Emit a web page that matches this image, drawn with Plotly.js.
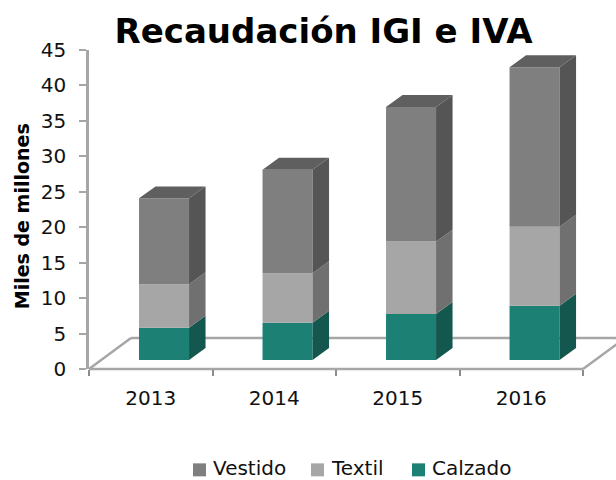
<!DOCTYPE html>
<html><head><meta charset="utf-8">
<script src="https://cdn.plot.ly/plotly-3.0.0.min.js"></script>
<style>html,body{margin:0;padding:0;background:#fff;overflow:hidden}</style>
</head><body><div id="chart" style="width:616px;height:480px"></div>
<script>
const years = ['2013','2014','2015','2016'];
const calzado = [4.55,5.25,6.5,7.65];
const textil = [6.15,7.0,10.2,11.15];
const vestido = [12.1,14.6,19.0,22.5];
const seriesNames = ['Calzado','Textil','Vestido'];
const frontColors = ['#1c8074','#a6a6a6','#7f7f7f'];
const sideColors = ['#14574f','#707070','#555555'];
const topColor = '#5f5f5f';
const legendSwatchX = [412,311,193];
const FONT = '"DejaVu Sans", sans-serif';
const floorRise = 1.27, depthX = 0.1336, depthY = 1.69, barW = 0.405, barOff = -0.095;

const positions = years.map((_, i) => i);
const seriesVals = [calzado, textil, vestido];
const traces = [];
const bases = [];
seriesVals.forEach((vals, s) => {
  const b = vals.map((_, i) => floorRise + seriesVals.slice(0, s).reduce((a, v) => a + v[i], 0));
  bases.push(b);
  traces.push({type:'bar', x:positions, y:vals, base:b, width:barW, offset:barOff,
    name:seriesNames[s], marker:{color:frontColors[s], line:{width:0}}, hoverinfo:'name+y', showlegend:false});
});
function face(points, color) {
  const xs = [], ys = [];
  points.forEach(p => { p.forEach(q => { xs.push(q[0]); ys.push(q[1]); }); xs.push(null); ys.push(null); });
  return {type:'scatter', mode:'lines', x:xs, y:ys, fill:'toself', fillcolor:color,
    line:{width:0, color:color}, showlegend:false, hoverinfo:'skip'};
}
seriesVals.forEach((vals, s) => {
  traces.push(face(vals.map((v, i) => {
    const r = i + barOff + barW, b = bases[s][i], t = b + v;
    return [[r,b],[r+depthX,b+depthY],[r+depthX,t+depthY],[r,t],[r,b]];
  }), sideColors[s]));
});
traces.push(face(vestido.map((v, i) => {
  const l = i + barOff, r = l + barW, t = bases[2][i] + v;
  return [[l,t],[l+depthX,t+depthY],[r+depthX,t+depthY],[r,t],[l,t]];
}), topColor));

const px = x => (x - 89) / 527, py = y => (369 - y) / 319.5;
const lineStyle = {color:'#a6a6a6', width:2.5};
const seg = (x0,y0,x1,y1) => ({type:'line', xref:'paper', yref:'paper', layer:'below',
  x0:px(x0), y0:py(y0), x1:px(x1), y1:py(y1), line:lineStyle});

const legendShapes = seriesNames.map((n, s) => ({type:'rect', xref:'paper', yref:'paper', layer:'above',
  x0:px(legendSwatchX[s]), x1:px(legendSwatchX[s]+13), y0:py(476.5), y1:py(463.5),
  fillcolor:frontColors[s], line:{width:0}}));
const legendText = seriesNames.map((n, s) => ({text:n, xref:'paper', yref:'paper', showarrow:false,
  x:px(legendSwatchX[s]+18), xanchor:'left', y:py(468), yanchor:'middle',
  font:{family:FONT, size:20, color:'#111'}}));

const layout = {
  width:616, height:480, margin:{l:89, r:0, t:49.5, b:111, pad:0},
  paper_bgcolor:'#fff', plot_bgcolor:'rgba(0,0,0,0)', barmode:'overlay', showlegend:false,
  title:{text:'<b>Recaudación IGI e IVA</b>', font:{family:FONT, size:34, color:'#000'},
    x:323.5/616, xanchor:'center', xref:'container', y:1-31/480, yanchor:'middle', yref:'container'},
  xaxis:{type:'linear', range:[-0.5,3.767], tickmode:'array', tickvals:positions, ticktext:years,
    ticks:'', showgrid:false, zeroline:false, showline:false, ticklabelstandoff:15,
    tickfont:{family:FONT, size:20, color:'#111'},
    minor:{tickmode:'array', tickvals:[-0.5,0.5,1.5,2.5,3.5], ticks:'outside', ticklen:6, tickwidth:1.5, tickcolor:'#8c8c8c', showgrid:false}},
  yaxis:{range:[0,45], dtick:5, ticks:'outside', ticklen:7, tickwidth:1.5, tickcolor:'#a6a6a6',
    showgrid:false, zeroline:false, showline:true, linecolor:'#a6a6a6', linewidth:2.5, ticklabelstandoff:9,
    tickfont:{family:FONT, size:20, color:'#111'}},
  annotations:[{text:'<b>Miles de millones</b>', textangle:-90, xref:'paper', yref:'paper', showarrow:false,
    x:px(22), xanchor:'center', y:py(216), yanchor:'middle', font:{family:FONT, size:19, color:'#000'}}].concat(legendText),
  shapes:[
    seg(89,369,583,369),
    seg(89,369,131,338),
    seg(131,338,625,338),
    seg(583,369,625,338)
  ].concat(legendShapes)
};
Plotly.newPlot('chart', traces, layout, {displayModeBar:false});
</script></body></html>
